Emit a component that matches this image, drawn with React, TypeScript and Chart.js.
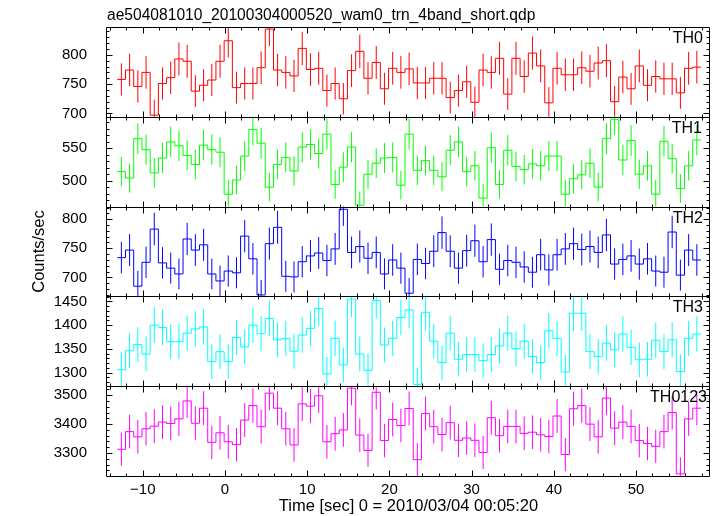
import React, { useEffect, useRef } from "react";
import { Chart, registerables } from "chart.js";

Chart.register(...registerables);

const FONT = '"Liberation Sans", Arial, Helvetica, sans-serif';

const PLOT_TITLE = "ae504081010_20100304000520_wam0_trn_4band_short.qdp";
const X_TITLE = "Time [sec] 0 = 2010/03/04 00:05:20";
const Y_TITLE = "Counts/sec";

// 1-s bins; left edge of first bin (sec)
const BIN_START = -13.1;
const BIN_WIDTH = 1;

const X_TICKS = [-10, 0, 10, 20, 30, 40, 50];

const TH0 = [
  758, 774, 746, 770, 697, 751, 761, 793, 789, 738, 748, 757, 789, 824, 744, 751, 751, 778, 844, 774,
  770, 764, 811, 775, 777, 739, 751, 725, 773, 806, 760, 787, 742, 777, 770, 776, 752, 752, 760, 760,
  727, 739, 754, 719, 774, 770, 794, 733, 794, 763, 803, 781, 718, 777, 766, 766, 778, 772, 786, 790,
  720, 762, 742, 781, 748, 763, 759, 759, 735, 777, 779,
];
const TH1 = [
  514, 504, 565, 548, 512, 535, 560, 554, 539, 525, 555, 548, 544, 479, 501, 538, 579, 558, 490, 525,
  536, 515, 552, 556, 542, 572, 494, 521, 552, 462, 510, 527, 535, 536, 493, 572, 516, 531, 516, 506,
  547, 560, 514, 523, 473, 551, 494, 547, 522, 517, 526, 523, 538, 538, 479, 503, 509, 527, 490, 565,
  595, 532, 562, 510, 523, 479, 561, 534, 488, 523, 563,
];
const TH2 = [
  734, 747, 685, 726, 783, 725, 716, 706, 766, 747, 756, 706, 694, 711, 708, 771, 732, 670, 758, 786,
  702, 701, 727, 737, 742, 729, 749, 817, 743, 753, 733, 743, 706, 730, 716, 673, 731, 724, 745, 777,
  745, 716, 746, 763, 727, 765, 714, 729, 726, 718, 709, 739, 713, 739, 749, 758, 748, 753, 743, 773,
  723, 731, 737, 723, 732, 711, 709, 778, 704, 747, 730,
];
const TH3 = [
  1306, 1346, 1359, 1339, 1400, 1395, 1365, 1365, 1383, 1392, 1396, 1323, 1344, 1323, 1374, 1354, 1400, 1382, 1414, 1369,
  1372, 1345, 1379, 1393, 1435, 1297, 1372, 1316, 1455, 1339, 1304, 1452, 1358, 1372, 1416, 1432, 1275, 1427, 1366, 1321,
  1383, 1328, 1338, 1338, 1325, 1338, 1356, 1383, 1350, 1366, 1334, 1321, 1388, 1372, 1301, 1425, 1425, 1344, 1334, 1362,
  1348, 1381, 1353, 1327, 1328, 1368, 1344, 1369, 1302, 1372, 1381,
];
const TH0123 = [
  3313, 3374, 3356, 3384, 3393, 3407, 3402, 3418, 3480, 3403, 3455, 3337, 3370, 3339, 3329, 3414, 3464, 3391, 3507, 3455,
  3384, 3328, 3470, 3462, 3498, 3339, 3367, 3380, 3524, 3362, 3309, 3510, 3343, 3416, 3395, 3454, 3277, 3437, 3391, 3364,
  3405, 3344, 3352, 3344, 3302, 3422, 3360, 3392, 3392, 3368, 3372, 3363, 3357, 3428, 3295, 3453, 3464, 3400, 3356, 3490,
  3386, 3407, 3392, 3343, 3333, 3323, 3374, 3440, 3228, 3418, 3455,
];

const TH0_TICKS = [700, 750, 800];
const TH1_TICKS = [500, 550];
const TH2_TICKS = [700, 750, 800];
const TH3_TICKS = [1300, 1350, 1400, 1450];
const TH0123_TICKS = [3300, 3400, 3500];

const PANELS = [
  { name: "TH0", values: TH0, ticks: TH0_TICKS, min: 694.2, max: 847.5, minor: 10, major: 50, color: "#ff0000", inset: 7 },
  { name: "TH1", values: TH1, ticks: TH1_TICKS, min: 459.9, max: 598.8, minor: 10, major: 50, color: "#00ff00", inset: 8 },
  { name: "TH2", values: TH2, ticks: TH2_TICKS, min: 667.5, max: 821.6, minor: 10, major: 50, color: "#0000ff", inset: 7 },
  { name: "TH3", values: TH3, ticks: TH3_TICKS, min: 1271.2, max: 1460.5, minor: 10, major: 50, color: "#00ffff", inset: 7 },
  { name: "TH0123", values: TH0123, ticks: TH0123_TICKS, min: 3220.7, max: 3531, minor: 20, major: 100, color: "#ff00ff", inset: 3 },
];

const W = 717;
const H = 516;
const AXIS_W = 107;
const TICK_FONT = 15;
const LABEL_FONT = 16.5;

const framePlugin = {
  id: "qdpFrame",
  afterDatasetsDraw(chart: any) {
    const { ctx, chartArea } = chart;
    const xs = chart.scales.x;
    const L = Math.round(chartArea.left) - 0.5;
    const R = Math.round(chartArea.right) - 0.5;
    ctx.save();
    ctx.strokeStyle = "#000";
    ctx.lineWidth = 1;
    PANELS.forEach((p, i) => {
      const ys = chart.scales["y" + i];
      const T = Math.round(ys.top) + 0.5;
      const B = Math.round(ys.bottom) + 0.5;
      ctx.beginPath();
      ctx.rect(L, T, R - L, B - T);
      for (let k = Math.ceil(xs.min / 2); k * 2 <= xs.max; k++) {
        const t = k * 2;
        const px = Math.round(xs.getPixelForValue(t)) + 0.5;
        const len = t % 10 === 0 ? 6 : 3;
        ctx.moveTo(px, T);
        ctx.lineTo(px, T + len);
        ctx.moveTo(px, B);
        ctx.lineTo(px, B - len);
      }
      for (let k = Math.ceil(p.min / p.minor); k * p.minor <= p.max; k++) {
        const v = k * p.minor;
        const py = Math.round(ys.getPixelForValue(v)) + 0.5;
        const len = v % p.major === 0 ? 6 : 3;
        ctx.moveTo(L, py);
        ctx.lineTo(L + len, py);
        ctx.moveTo(R, py);
        ctx.lineTo(R - len, py);
      }
      ctx.stroke();
      ctx.fillStyle = "#000";
      ctx.font = `16px ${FONT}`;
      ctx.textAlign = "right";
      ctx.textBaseline = "alphabetic";
      ctx.fillText(p.name, chartArea.right - p.inset, ys.top + 16);
    });
    ctx.font = `15.6px ${FONT}`;
    ctx.textAlign = "left";
    ctx.textBaseline = "alphabetic";
    ctx.fillText(PLOT_TITLE, chartArea.left, 20);
    ctx.restore();
  },
};

export default function App() {
  const ref = useRef<HTMLCanvasElement>(null);
  useEffect(() => {
    const canvas = ref.current as HTMLCanvasElement;
    const datasets: any[] = [];
    const scales: any = {
      x: {
        type: "linear",
        position: "bottom",
        min: -14.35,
        max: 59.0,
        grid: { display: false },
        border: { display: false },
        afterBuildTicks: (s: any) => {
          s.ticks = X_TICKS.map((v) => ({ value: v }));
        },
        afterFit: (s: any) => {
          s.height = H - 476;
        },
        ticks: {
          autoSkip: false,
          maxRotation: 0,
          padding: -3,
          color: "#000",
          font: { family: FONT, size: TICK_FONT },
          callback: (v: number) => (v < 0 ? "\u2212" + Math.abs(v) : String(v)),
        },
        title: {
          display: true,
          text: X_TITLE,
          color: "#000",
          font: { family: FONT, size: LABEL_FONT },
          padding: { top: 0, bottom: 0 },
        },
      },
    };
    PANELS.forEach((p, i) => {
      const id = "y" + i;
      scales[id] = {
        type: "linear",
        position: "left",
        stack: "panels",
        stackWeight: 1,
        weight: PANELS.length - i,
        min: p.min,
        max: p.max,
        grid: { display: false },
        border: { display: false },
        afterBuildTicks: (s: any) => {
          s.ticks = p.ticks.map((v) => ({ value: v }));
        },
        afterFit: (s: any) => {
          s.width = AXIS_W;
        },
        ticks: {
          autoSkip: false,
          padding: 12,
          color: "#000",
          font: { family: FONT, size: TICK_FONT },
          callback: (v: number) => String(v),
        },
        title:
          i === 2
            ? {
                display: true,
                text: Y_TITLE,
                color: "#000",
                font: { family: FONT, size: LABEL_FONT },
                padding: { top: 30, bottom: 0 },
              }
            : { display: false },
      };
      const steps = p.values.map((v, k) => ({ x: BIN_START + k * BIN_WIDTH, y: v }));
      steps.push({ x: BIN_START + p.values.length * BIN_WIDTH, y: p.values[p.values.length - 1] });
      datasets.push({
        type: "line",
        data: steps,
        xAxisID: "x",
        yAxisID: id,
        stepped: true,
        borderColor: p.color,
        borderWidth: 1,
        pointRadius: 0,
        fill: false,
      });
      const bars: any[] = [];
      p.values.forEach((v, k) => {
        const c = BIN_START + (k + 0.5) * BIN_WIDTH;
        const e = Math.sqrt(v); // Poisson error
        bars.push({ x: c, y: v - e }, { x: c, y: v + e }, { x: c, y: null });
      });
      datasets.push({
        type: "line",
        data: bars,
        xAxisID: "x",
        yAxisID: id,
        borderColor: p.color,
        borderWidth: 1,
        pointRadius: 0,
        spanGaps: false,
        fill: false,
      });
    });

    const chart = new Chart(canvas, {
      type: "line",
      data: { datasets },
      options: {
        responsive: false,
        animation: false,
        devicePixelRatio: 1,
        layout: { padding: { top: 27, right: 7, left: 0, bottom: 0 } },
        plugins: { legend: { display: false }, title: { display: false }, tooltip: { enabled: false } },
        events: [],
        scales,
      },
      plugins: [framePlugin],
    } as any);
    return () => chart.destroy();
  }, []);
  return (
    <div style={{ position: "fixed", left: 0, top: 0, width: W, height: H, background: "#fff" }}>
      <canvas ref={ref} width={W} height={H} style={{ display: "block" }} />
    </div>
  );
}
